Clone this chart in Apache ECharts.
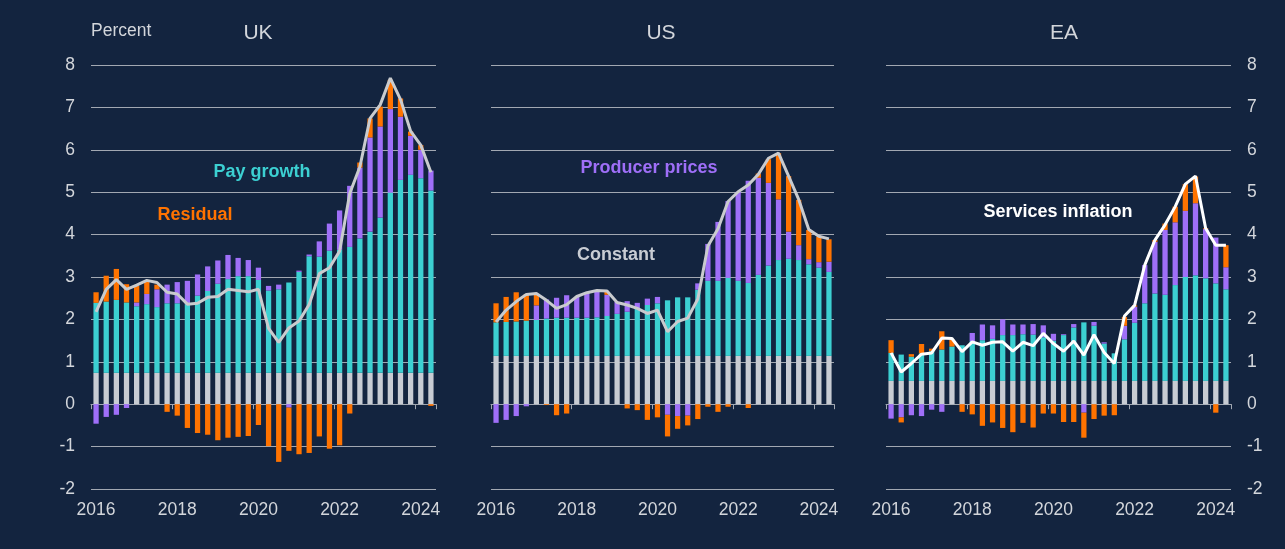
<!DOCTYPE html>
<html>
<head>
<meta charset="utf-8">
<script src="https://cdn.jsdelivr.net/npm/echarts@6/dist/echarts.min.js"></script>
<style>
html,body{margin:0;padding:0;background:#13243f;}
#chart{width:1285px;height:549px;}
</style>
</head>
<body>
<div id="chart"></div>
<script>
// Quarters 2016Q1 .. 2024Q2
const quarters = [];
for (let y = 2016; y <= 2024; y++) { for (let q = 1; q <= 4; q++) { if (y === 2024 && q > 2) break; quarters.push(y + 'Q' + q); } }
const tickYears = ['2016', '2018', '2020', '2022', '2024'];
const yTicks = [-2, -1, 0, 1, 2, 3, 4, 5, 6, 7, 8];

// UK
const ukConstant = [0.74,0.74,0.74,0.74,0.74,0.74,0.74,0.74,0.74,0.74,0.74,0.74,0.74,0.74,0.74,0.74,0.74,0.74,0.74,0.74,0.74,0.74,0.74,0.74,0.74,0.74,0.74,0.74,0.74,0.74,0.74,0.74,0.74,0.74];
const ukPay = [1.65,1.68,1.72,1.66,1.57,1.62,1.55,1.64,1.64,1.62,1.82,1.93,2.10,2.21,2.28,2.28,2.19,1.94,1.97,2.13,2.38,2.75,2.74,2.88,2.90,2.97,3.17,3.33,3.66,4.25,4.55,4.67,4.59,4.30];
const ukProducer = [-0.46,-0.30,-0.25,-0.09,0.09,0.24,0.42,0.44,0.50,0.55,0.50,0.58,0.55,0.57,0.43,0.38,0.29,0.11,0.11,-0.08,0.03,0.04,0.36,0.64,0.93,1.44,1.67,2.22,2.15,1.97,1.49,0.92,0.67,0.47];
const ukResidual = [0.25,0.61,0.73,0.43,0.39,0.30,0.11,-0.18,-0.27,-0.56,-0.68,-0.72,-0.85,-0.79,-0.77,-0.75,-0.49,-0.99,-1.36,-1.02,-1.18,-1.15,-0.76,-1.05,-0.97,-0.22,0.12,0.45,0.47,0.69,0.43,0.10,0.11,-0.04];
const ukServices = [2.18,2.71,2.94,2.71,2.81,2.92,2.87,2.64,2.60,2.36,2.38,2.52,2.54,2.71,2.68,2.65,2.71,1.79,1.46,1.80,1.96,2.35,3.08,3.22,3.61,4.97,5.60,6.74,7.06,7.69,7.19,6.44,6.11,5.47];

// US
const usConstant = [1.14,1.14,1.14,1.14,1.14,1.14,1.14,1.14,1.14,1.14,1.14,1.14,1.14,1.14,1.14,1.14,1.14,1.14,1.14,1.14,1.14,1.14,1.14,1.14,1.14,1.14,1.14,1.14,1.14,1.14,1.14,1.14,1.14,1.14];
const usPay = [0.79,0.80,0.81,0.83,0.85,0.88,0.90,0.90,0.90,0.90,0.91,0.94,0.99,1.04,1.11,1.20,1.24,1.31,1.38,1.38,1.56,1.77,1.77,1.84,1.77,1.72,1.91,2.13,2.26,2.29,2.26,2.16,2.08,1.98];
const usProducer = [-0.44,-0.37,-0.28,-0.05,0.34,0.45,0.47,0.53,0.49,0.59,0.61,0.50,0.28,0.25,0.14,0.15,0.15,-0.25,-0.28,-0.27,0.15,0.87,1.39,1.81,2.10,2.41,2.29,1.95,1.43,0.64,0.35,0.12,0.13,0.24];
const usResidual = [0.45,0.59,0.69,0.62,0.27,-0.02,-0.26,-0.22,0.00,0.00,0.02,0.07,0.00,-0.10,-0.14,-0.37,-0.31,-0.51,-0.30,-0.23,-0.35,-0.06,-0.18,-0.06,0.00,-0.09,0.10,0.56,1.09,1.31,1.07,0.69,0.60,0.53];
const usServices = [1.94,2.22,2.42,2.59,2.61,2.45,2.26,2.35,2.54,2.63,2.68,2.67,2.40,2.34,2.26,2.14,2.22,1.71,1.95,2.03,2.48,3.73,4.14,4.78,5.01,5.17,5.42,5.80,5.92,5.38,4.83,4.12,3.96,3.90];

// EA
const eaConstant = [0.55,0.55,0.55,0.55,0.55,0.55,0.55,0.55,0.55,0.55,0.55,0.55,0.55,0.55,0.55,0.55,0.55,0.55,0.55,0.55,0.55,0.55,0.55,0.55,0.55,0.55,0.55,0.55,0.55,0.55,0.55,0.55,0.55,0.55];
const eaPay = [0.66,0.62,0.57,0.65,0.70,0.74,0.81,0.84,0.94,0.96,0.99,1.08,1.08,1.10,1.09,1.03,0.95,1.08,1.26,1.38,1.30,0.88,0.65,0.98,1.37,1.83,2.06,2.03,2.26,2.45,2.49,2.42,2.30,2.16];
const eaProducer = [-0.34,-0.31,-0.26,-0.28,-0.13,-0.18,0.00,0.00,0.19,0.37,0.32,0.37,0.25,0.23,0.25,0.28,0.16,0.02,0.08,-0.20,0.09,0.03,0.00,0.32,0.38,0.90,1.22,1.53,1.48,1.56,1.70,1.16,1.08,0.52];
const eaResidual = [0.30,-0.12,0.06,0.22,0.06,0.43,0.16,-0.18,-0.24,-0.51,-0.43,-0.56,-0.66,-0.44,-0.55,-0.22,-0.22,-0.42,-0.42,-0.59,-0.35,-0.27,-0.26,0.21,0.03,0.00,0.04,0.15,0.37,0.63,0.63,0.02,-0.20,0.52];
const eaServices = [1.21,0.76,0.96,1.18,1.21,1.56,1.55,1.24,1.47,1.39,1.46,1.47,1.25,1.46,1.38,1.67,1.43,1.25,1.49,1.16,1.64,1.22,0.96,2.08,2.33,3.28,3.87,4.23,4.66,5.19,5.38,4.15,3.75,3.75];

const panels = [
  { name: 'UK', constant: ukConstant, pay: ukPay, producer: ukProducer, residual: ukResidual, services: ukServices },
  { name: 'US', constant: usConstant, pay: usPay, producer: usProducer, residual: usResidual, services: usServices },
  { name: 'EA', constant: eaConstant, pay: eaPay, producer: eaProducer, residual: eaResidual, services: eaServices }
];

const C = {
  bg: '#13243f', teal: '#3cd0d2', purple: '#9f6ff8', orange: '#ff7300', grey: '#c8ccd3',
  grid: '#a2a8b2', text: '#d3d6db', line: '#c9cbce', white: '#ffffff'
};
const FONT = "'Liberation Sans', Arial, sans-serif";

const gridPos = [ { left: 91, width: 345 }, { left: 491, width: 343 }, { left: 886, width: 345 } ];

const grid = [], xAxis = [], yAxis = [], series = [];
panels.forEach((p, i) => {
  grid.push({ left: gridPos[i].left, width: gridPos[i].width, top: 65, bottom: 60, containLabel: false, outerBoundsMode: 'none' });
  xAxis.push({
    type: 'category', gridIndex: i, data: quarters, boundaryGap: true,
    axisLine: { show: true, onZero: true, lineStyle: { color: C.grid, width: 1 } },
    axisTick: { show: true, interval: 7, length: 5, lineStyle: { color: C.grid } },
    axisLabel: {
      show: true, interval: 7, margin: 12, color: C.text, fontSize: 17.5, fontFamily: FONT,
      formatter: v => { const y = v.slice(0, 4); return tickYears.indexOf(y) >= 0 ? y : ''; }
    },
    splitLine: { show: false }
  });
  yAxis.push({
    type: 'value', gridIndex: i, min: yTicks[0], max: yTicks[yTicks.length - 1], interval: 1,
    position: i === 2 ? 'right' : 'left',
    axisLine: { show: false }, axisTick: { show: false },
    axisLabel: { show: i !== 1, margin: 16, color: C.text, fontSize: 17.5, fontFamily: FONT },
    splitLine: { show: true, lineStyle: { color: C.grid, width: 1 } }
  });
  const stack = 'stack' + i;
  const mk = (nm, data, color) => ({
    name: nm, type: 'bar', xAxisIndex: i, yAxisIndex: i, stack: stack, stackStrategy: 'samesign',
    data: data, barWidth: '52%', itemStyle: { color: color }, emphasis: { disabled: true }, silent: true
  });
  series.push(mk('Constant', p.constant, C.grey));
  series.push(mk('Pay growth', p.pay, C.teal));
  series.push(mk('Producer prices', p.producer, C.purple));
  series.push(mk('Residual', p.residual, C.orange));
  series.push({
    name: 'Services inflation', type: 'line', xAxisIndex: i, yAxisIndex: i, data: p.services,
    symbol: 'none', smooth: false, silent: true,
    lineStyle: { color: i === 2 ? C.white : C.line, width: 3 }, z: 5
  });
});

const txt = (t, x, y, color, size, weight) => ({
  type: 'text', x: x, y: y, silent: true,
  style: { text: t, fill: color, font: (weight || 'normal') + ' ' + size + 'px ' + FONT, textAlign: 'center', textVerticalAlign: 'middle' }
});

const graphic = [
  { type: 'text', x: 91, y: 31, silent: true, style: { text: 'Percent', fill: C.text, font: 'normal 17.5px ' + FONT, textAlign: 'left', textVerticalAlign: 'middle' } },
  txt('UK', 258, 33, C.text, 21),
  txt('US', 661, 33, C.text, 21),
  txt('EA', 1064, 33, C.text, 21),
  txt('Pay growth', 262, 172, C.teal, 18, 'bold'),
  txt('Residual', 195, 215, C.orange, 18, 'bold'),
  txt('Producer prices', 649, 168, C.purple, 18, 'bold'),
  txt('Constant', 616, 255, C.grey, 18, 'bold'),
  txt('Services inflation', 1058, 212, C.white, 18, 'bold')
];

const chart = echarts.init(document.getElementById('chart'), null, { renderer: 'canvas' });
chart.setOption({
  backgroundColor: C.bg,
  animation: false,
  grid: grid, xAxis: xAxis, yAxis: yAxis, series: series, graphic: graphic
});
</script>
</body>
</html>
